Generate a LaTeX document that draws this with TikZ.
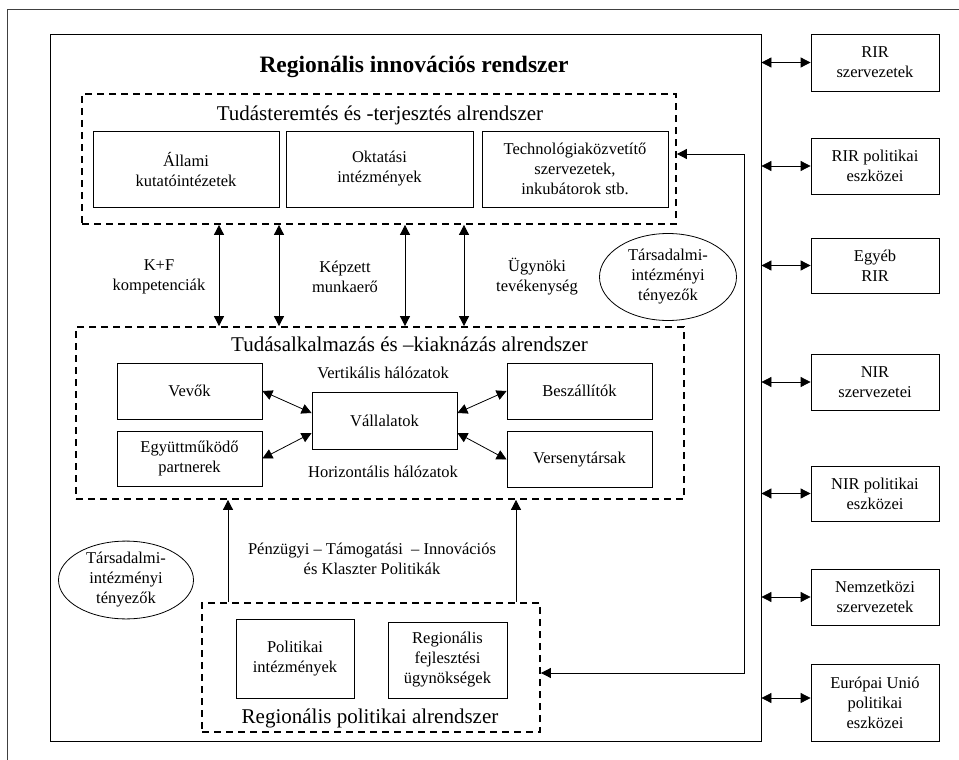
\documentclass[tikz,border=0pt]{standalone}
\usepackage{fontspec}
\setmainfont{Liberation Serif}
\usetikzlibrary{arrows.meta,shapes.geometric}
\begin{document}
\begin{tikzpicture}[x=1pt,y=-1pt,
  txt/.style={font=\fontsize{16.5}{20}\selectfont, align=center, inner sep=0pt},
  head/.style={font=\fontsize{21}{24}\selectfont, inner sep=0pt},
  box/.style={txt, draw, line width=0.8pt},
  dbox/.style={draw, line width=1.8pt, dash pattern=on 7pt off 5pt, inner sep=0pt},
  ell/.style={txt, draw, ellipse, line width=0.8pt},
  tip/.tip={Triangle[width=10pt,length=10pt]},
  dbl/.style={line width=0.8pt, tip-tip},
  sgl/.style={line width=0.8pt, -tip}]
\useasboundingbox (0,0) rectangle (959,760);
% outer frame
\draw[line width=0.8pt, black!75] (7,760) -- (7,9) -- (959,9);
% main box
\node[draw, line width=0.8pt, minimum width=711pt, minimum height=707pt, inner sep=0pt] (main) at (405.5,387.5) {};
\node[font=\bfseries\fontsize{23.5}{26}\selectfont, inner sep=0pt] (title) at (414,67) {Regionális innovációs rendszer};
% top subsystem
\node[dbox, minimum width=594pt, minimum height=130pt] (topdash) at (379,159) {};
\node[head] (toptitle) at (380,115) {Tudásteremtés és -terjesztés alrendszer};
\node[box, minimum width=186pt, minimum height=76pt] (allami) at (186,169) {Állami\\kutatóintézetek};
\node[box, minimum width=187pt, minimum height=76pt] (oktat) at (379.5,169) {Oktatási\\intézmények};
\node[box, minimum width=186pt, minimum height=76pt] (techno) at (575,169) {Technológiaközvetítő\\szervezetek,\\inkubátorok stb.};
% middle subsystem
\node[dbox, minimum width=608pt, minimum height=172pt] (middash) at (380,413) {};
\node[head] (midtitle) at (409.5,344) {Tudásalkalmazás és –kiaknázás alrendszer};
\node[box, minimum width=145pt, minimum height=56pt] (vevok) at (189.5,391) {Vevők};
\node[box, minimum width=145pt, minimum height=55pt] (egyutt) at (189.5,458.5) {Együttműködő\\partnerek};
\node[box, minimum width=145pt, minimum height=57pt] (vall) at (384.5,420.5) {Vállalatok};
\node[box, minimum width=145pt, minimum height=56pt] (beszall) at (579.5,391) {Beszállítók};
\node[box, minimum width=145pt, minimum height=56pt] (verseny) at (579.5,459.5) {Versenytársak};
\node[txt] (vert) at (383,373) {Vertikális hálózatok};
\node[txt] (horiz) at (383,472) {Horizontális hálózatok};
\draw[dbl] (vevok.east) -- ([yshift=7.5pt]vall.west);
\draw[dbl] (egyutt.east) -- ([yshift=-12.5pt]vall.west);
\draw[dbl] (beszall.west) -- ([yshift=7.5pt]vall.east);
\draw[dbl] (verseny.west) -- ([yshift=-12.5pt]vall.east);
% flows between top and middle
\coordinate (v1) at (219,0);
\coordinate (v2) at (279,0);
\coordinate (v3) at (405,0);
\coordinate (v4) at (464,0);
\foreach \v in {v1,v2,v3,v4} \draw[dbl] (\v |- topdash.south) -- (\v |- middash.north);
\node[txt] (kf) at (159,277) {K+F\\kompetenciák};
\node[txt] (kepz) at (345,277) {Képzett\\munkaerő};
\node[txt] (ugyn) at (537,277) {Ügynöki\\tevékenység};
\node[ell, minimum width=137pt, minimum height=87pt] (tarsA) at (668,277) {Társadalmi-\\intézményi\\tényezők};
% bottom subsystem
\node[dbox, minimum width=338pt, minimum height=129pt] (botdash) at (371,667.5) {};
\node[head] (bottitle) at (370,718) {Regionális politikai alrendszer};
\node[box, minimum width=118pt, minimum height=79pt] (polint) at (295,658.5) {Politikai\\intézmények};
\node[box, minimum width=119pt, minimum height=76pt] (regfejl) at (447.5,660) {Regionális\\fejlesztési\\ügynökségek};
\node[ell, minimum width=135pt, minimum height=67pt] (tarsB) at (126,580) {Társadalmi-\\intézményi\\tényezők};
\node[txt] (penz) at (372,559) {Pénzügyi – Támogatási \ – Innovációs\\és Klaszter Politikák};
\coordinate (u1) at (228,0);
\coordinate (u2) at (516,0);
\draw[sgl] (u1 |- botdash.north) -- (u1 |- middash.south);
\draw[sgl] (u2 |- botdash.north) -- (u2 |- middash.south);
% feedback line
\coordinate (fb1) at (744,154);
\coordinate (fb2) at (744,673);
\draw[dbl] (topdash.east |- fb1) -- (fb1) -- (fb2) -- (botdash.east |- fb2);
% right column
\node[box, minimum width=128pt, minimum height=57pt] (r1) at (875,62.5) {RIR\\szervezetek};
\node[box, minimum width=128pt, minimum height=56pt] (r2) at (875,166) {RIR politikai\\eszközei};
\node[box, minimum width=128pt, minimum height=55pt] (r3) at (875,265.5) {Egyéb\\RIR};
\node[box, minimum width=128pt, minimum height=56pt] (r4) at (875,382) {NIR\\szervezetei};
\node[box, minimum width=128pt, minimum height=55pt] (r5) at (875,493.5) {NIR politikai\\eszközei};
\node[box, minimum width=128pt, minimum height=56pt] (r6) at (875,597) {Nemzetközi\\szervezetek};
\node[box, minimum width=128pt, minimum height=77pt] (r7) at (875,702.5) {Európai Unió\\politikai\\eszközei};
\foreach \r in {r1,r2,r3,r4,r5,r6} \draw[dbl] (main.east |- \r.west) -- (\r.west);
\draw[dbl] ([yshift=4.5pt]main.east |- r7.west) -- ([yshift=4.5pt]r7.west);
\end{tikzpicture}
\end{document}
